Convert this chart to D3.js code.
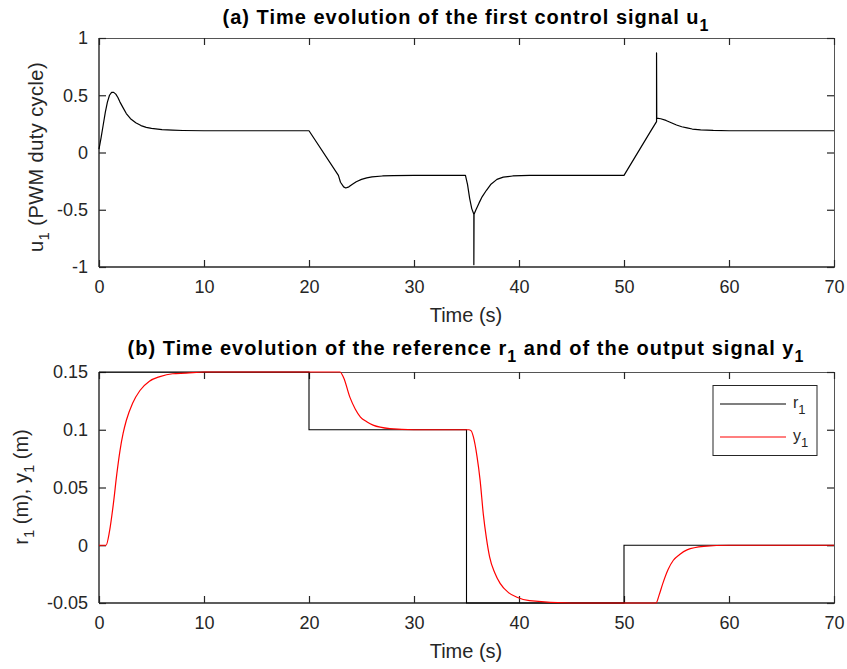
<!DOCTYPE html>
<html><head><meta charset="utf-8">
<script src="https://cdn.jsdelivr.net/npm/d3@7"></script>
<style>body{margin:0;background:#fff}svg{display:block}text{font-family:"Liberation Sans",Arial,Helvetica,sans-serif}</style>
</head><body><svg id="c" width="847" height="669"></svg>
<script>
// ---- data ----
const xTicks = [0,10,20,30,40,50,60,70];
const uTicks = [-1,-0.5,0,0.5,1];
const yTicks = [-0.05,0,0.05,0.1,0.15];
const uTickLabels = ["-1","-0.5","0","0.5","1"];
const yTickLabels = ["-0.05","0","0.05","0.1","0.15"];

// control signal u1
const uT = [0,0.2,0.4,0.6,0.8,1.0,1.2,1.4,1.6,1.8,2.0,2.3,2.6,3.0,3.5,4.0,4.5,5,6,7,8,10,20,22.8,23.0,23.3,23.5,23.8,24.1,24.5,25,25.5,26,27,28,30,34.9,35.1,35.3,35.5,35.7,35.7,35.72,35.9,36.2,36.5,36.9,37.3,37.9,38.5,39.4,41,44,50,52.5,53.1,53.1,53.12,53.5,54,54.5,55,55.5,56,56.5,57.3,58.5,60,70];
const uV = [0.03,0.13,0.24,0.35,0.44,0.5,0.525,0.525,0.51,0.48,0.44,0.39,0.34,0.295,0.26,0.235,0.22,0.21,0.2,0.195,0.192,0.19,0.19,-0.2,-0.26,-0.3,-0.31,-0.3,-0.28,-0.255,-0.235,-0.222,-0.213,-0.205,-0.202,-0.2,-0.2,-0.28,-0.4,-0.49,-0.54,-0.98,-0.54,-0.5,-0.44,-0.385,-0.33,-0.28,-0.235,-0.215,-0.205,-0.2,-0.2,-0.2,0.18,0.27,0.87,0.3,0.295,0.28,0.26,0.24,0.225,0.215,0.205,0.198,0.193,0.19,0.19];

// reference r1 (step)
const rT = [0,20,20,35,35,50,50,70];
const rV = [0.15,0.15,0.1,0.1,-0.05,-0.05,0,0];

// output y1
const yT = [0,0.67,1.0,1.37,1.7,2.0,2.3,2.6,3.2,3.9,4.8,5.8,7,8.3,10,20,22.95,23.3,23.9,24.4,24.9,25.5,26.1,27.7,30,35.2,35.45,35.65,36.0,36.3,36.6,36.9,37.2,37.7,38.2,39,39.8,41,45,50,53.05,53.35,53.7,54.2,54.7,55.3,56,57.6,60,70];
const yV = [0,0,0.012,0.036,0.062,0.082,0.097,0.108,0.123,0.134,0.142,0.146,0.1485,0.149,0.15,0.15,0.15,0.145,0.128,0.118,0.111,0.107,0.104,0.101,0.1,0.1,0.099,0.094,0.077,0.056,0.027,0.006,-0.01,-0.024,-0.033,-0.041,-0.045,-0.048,-0.05,-0.05,-0.05,-0.043,-0.033,-0.021,-0.013,-0.008,-0.004,-0.001,0,0];

// ---- drawing ----
const svg = d3.select("#c");
const L = 99, R = 834;
const axCol = "#262626";
const x = d3.scaleLinear().domain([0,70]).range([L,R]);

function panel(top, bottom, domain, ticks, labels){
  const y = d3.scaleLinear().domain(domain).range([bottom, top]);
  const g = svg.append("g");
  g.append("line").attr("x1",L).attr("x2",R).attr("y1",top+0.5).attr("y2",top+0.5).attr("stroke","#555").attr("stroke-width",1);
  g.append("line").attr("x1",R+0.5).attr("x2",R+0.5).attr("y1",top).attr("y2",bottom).attr("stroke","#555").attr("stroke-width",1);
  g.append("g").attr("transform",`translate(0,${bottom})`)
    .call(d3.axisBottom(x).tickValues(xTicks).tickSize(-7).tickPadding(13).tickFormat(d3.format("d")));
  g.append("g").attr("transform",`translate(0,${top})`)
    .call(d3.axisTop(x).tickValues(xTicks).tickSize(-7).tickFormat(""));
  g.append("g").attr("transform",`translate(${L},0)`)
    .call(d3.axisLeft(y).tickValues(ticks).tickSize(-7).tickPadding(11).tickFormat((d,i)=>labels[i]));
  g.append("g").attr("transform",`translate(${R},0)`)
    .call(d3.axisRight(y).tickValues(ticks).tickSize(-7).tickFormat(""));
  g.selectAll(".domain").remove();
  g.selectAll(".tick line").attr("stroke",axCol).attr("stroke-width",1.2);
  g.selectAll(".tick text").attr("fill",axCol).style("font-size","18px").style("font-family",'"Liberation Sans",Arial,sans-serif');
  g.append("line").attr("x1",L).attr("x2",R+1).attr("y1",bottom).attr("y2",bottom).attr("stroke",axCol).attr("stroke-width",1.4);
  g.append("line").attr("x1",L).attr("x2",L).attr("y1",top).attr("y2",bottom).attr("stroke",axCol).attr("stroke-width",1.4);
  return y;
}

const yU = panel(38, 267, [-1,1], uTicks, uTickLabels);
const yY = panel(372, 603, [-0.05,0.15], yTicks, yTickLabels);

const line = (ys)=> d3.line().x(d=>x(d[0])).y(d=>ys(d[1]));
svg.append("path").datum(uT.map((t,i)=>[t,uV[i]])).attr("d",line(yU)).attr("fill","none").attr("stroke","#000").attr("stroke-width",1.2).attr("stroke-linejoin","round");
svg.append("path").datum(rT.map((t,i)=>[t,rV[i]])).attr("d",line(yY)).attr("fill","none").attr("stroke","#000").attr("stroke-width",1.1);
svg.append("path").datum(yT.map((t,i)=>[t,yV[i]])).attr("d",d3.line().curve(d3.curveMonotoneX).x(d=>x(d[0])).y(d=>yY(d[1]))).attr("fill","none").attr("stroke","#ff0000").attr("stroke-width",1.2);

function fit(sel, w){
  const n = sel.text().length;
  const len = sel.node().getComputedTextLength();
  sel.style("letter-spacing", ((w-len)/n)+"px");
}

// titles
const t1 = svg.append("text").attr("x",466).attr("y",24).attr("text-anchor","middle").style("font-size","20px").style("font-weight","bold").attr("fill","#000");
t1.append("tspan").text("(a) Time evolution of the first control signal u");
t1.append("tspan").text("1").attr("dy",7).style("font-size","16px");
fit(t1, 487);
const t2 = svg.append("text").attr("x",466).attr("y",355).attr("text-anchor","middle").style("font-size","20px").style("font-weight","bold").attr("fill","#000");
t2.append("tspan").text("(b) Time evolution of the reference r");
t2.append("tspan").text("1").attr("dy",7).style("font-size","16px");
t2.append("tspan").text(" and of the output signal y").attr("dy",-7);
t2.append("tspan").text("1").attr("dy",7).style("font-size","16px");
fit(t2, 677);

// x labels
svg.append("text").attr("x",466).attr("y",322).attr("text-anchor","middle").style("font-size","20px").attr("fill",axCol).text("Time (s)");
svg.append("text").attr("x",466).attr("y",658).attr("text-anchor","middle").style("font-size","20px").attr("fill",axCol).text("Time (s)");

// y labels
const yl1 = svg.append("text").attr("transform","translate(43,157) rotate(-90)").attr("text-anchor","middle").style("font-size","20px").attr("fill",axCol);
yl1.append("tspan").text("u");
yl1.append("tspan").text("1").attr("dy",6).style("font-size","15px");
yl1.append("tspan").text(" (PWM duty cycle)").attr("dy",-6);
fit(yl1, 190);
const yl2 = svg.append("text").attr("transform","translate(28,487) rotate(-90)").attr("text-anchor","middle").style("font-size","20px").attr("fill",axCol);
yl2.append("tspan").text("r");
yl2.append("tspan").text("1").attr("dy",6).style("font-size","15px");
yl2.append("tspan").text(" (m), y").attr("dy",-6);
yl2.append("tspan").text("1").attr("dy",6).style("font-size","15px");
yl2.append("tspan").text(" (m)").attr("dy",-6);

// legend
const leg = svg.append("g");
leg.append("rect").attr("x",713).attr("y",385.5).attr("width",104).attr("height",70).attr("fill","#fff").attr("stroke",axCol).attr("stroke-width",1);
const items = [["r","#000",404],["y","#ff0000",437]];
items.forEach(([n,c,yy])=>{
  leg.append("line").attr("x1",720).attr("x2",786).attr("y1",yy).attr("y2",yy).attr("stroke",c).attr("stroke-width",1.2);
  const tx = leg.append("text").attr("x",793).attr("y",yy+4).style("font-size","16px").attr("fill",axCol);
  tx.append("tspan").text(n);
  tx.append("tspan").text("1").attr("dy",6).style("font-size","13px");
});
</script></body></html>
